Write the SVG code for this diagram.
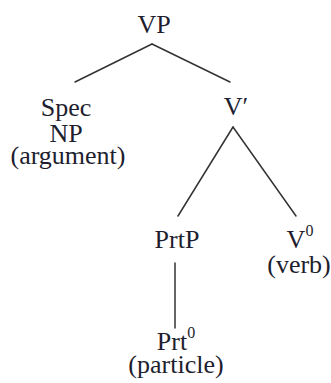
<svg xmlns="http://www.w3.org/2000/svg" width="331" height="383" viewBox="0 0 331 383">
<style>
text { font-family: "Liberation Serif", "Times New Roman", serif; font-size: 26px; fill: #1e1e2e; text-anchor: middle; }
.sup { font-size: 16px; }
line { stroke: #333; stroke-width: 1.5; stroke-linecap: round; }
</style>
<rect width="331" height="383" fill="#fff"/>
<g id="connectors">
<line x1="152" y1="44" x2="75" y2="82"/>
<line x1="152" y1="44" x2="230" y2="82"/>
<line x1="233" y1="127" x2="178" y2="216"/>
<line x1="233" y1="127" x2="296" y2="216"/>
<line x1="175" y1="263" x2="175" y2="328"/>
</g>
<g id="VP"><text x="154" y="33">VP</text></g>
<g id="SpecNP">
<text x="66" y="116">Spec</text>
<text x="66" y="142">NP</text>
<text x="68" y="164">(argument)</text>
</g>
<g id="Vbar"><text x="236" y="115">V′</text></g>
<g id="PrtP"><text x="177" y="248">PrtP</text></g>
<g id="V0">
<text x="300" y="248">V<tspan class="sup" dy="-12">0</tspan></text>
<text x="299" y="273">(verb)</text>
</g>
<g id="Prt0">
<text x="176" y="350">Prt<tspan class="sup" dy="-12">0</tspan></text>
<text x="176" y="373">(particle)</text>
</g>
</svg>
